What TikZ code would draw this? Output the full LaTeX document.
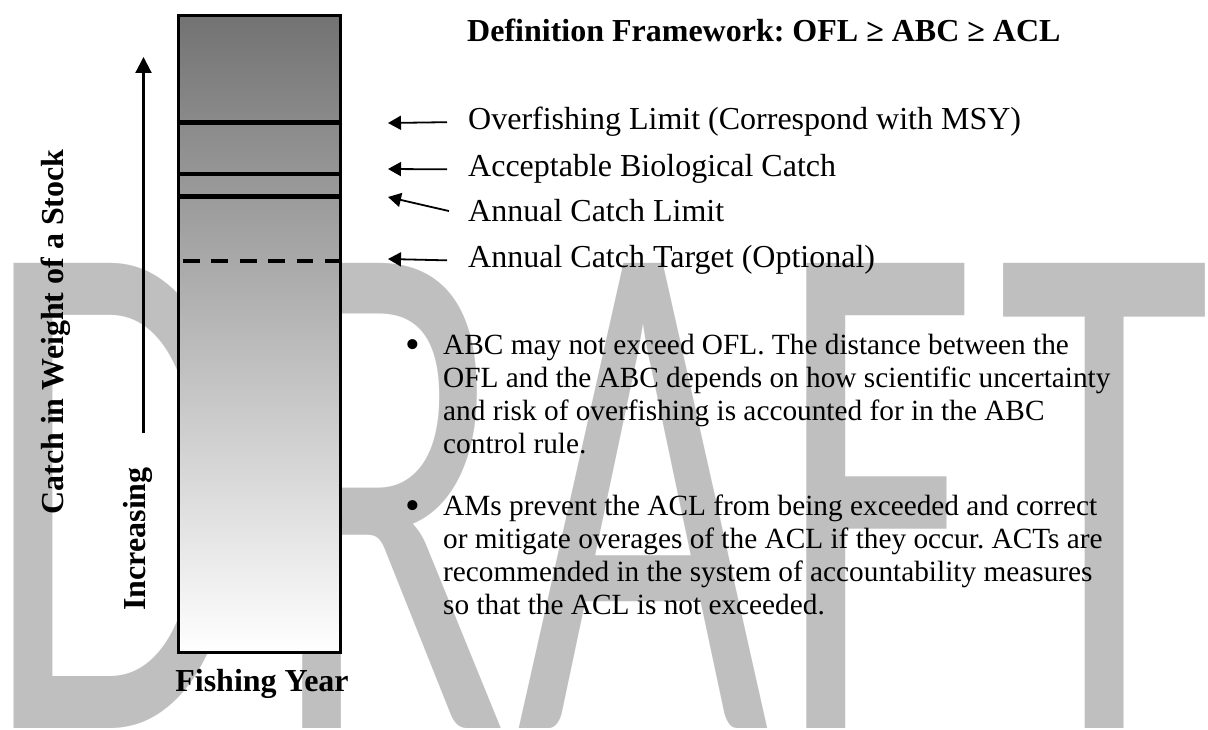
\documentclass[tikz,border=0pt]{standalone}
\usepackage{fontspec}
\setmainfont{Liberation Serif}
\newfontfamily\wmfont{Carlito}
\usepackage{tikz}
\usetikzlibrary{positioning}
\usetikzlibrary{arrows.meta}
\usetikzlibrary{calc}
\frenchspacing

\begin{document}
\begin{tikzpicture}[x=1pt,y=-1pt,
  wm/.style={anchor=base west, inner sep=0pt, text=black!25, xscale=0.6,
    font=\wmfont\fontsize{725}{725}\selectfont},
  lab/.style={anchor=base west, inner sep=0pt, font=\fontsize{32}{36}\selectfont},
  head/.style={inner sep=0pt, font=\fontsize{32}{36}\selectfont\bfseries},
  para/.style={anchor=base west, inner sep=0pt, align=left, font=\fontsize{29.3}{33.3}\selectfont},
  dot/.style={anchor=base, inner sep=0pt, font=\fontsize{42}{42}\selectfont},
  ptr/.style={-{Triangle[length=13pt,width=14pt]}, line width=1.8pt},
  lim/.style={line width=4.5pt}]

\useasboundingbox (0,0) rectangle (1208,730);

% watermark
\node[wm] (wmD) at (-16,728) {D};
\node[wm] (wmR) at (271,728) {R};
\node[wm, anchor=base] (wmA) at (643,728) {A};
\node[wm] (wmF) at (777,728) {F};
\node[wm, anchor=base] (wmT) at (1104,728) {T};

% the catch bar
\node[draw, line width=3.5pt, inner sep=0pt, minimum width=162pt, minimum height=637pt,
  top color=black!55, middle color=black!25, bottom color=white] (bar) at (259.5,334) {};

\draw[lim] (bar.west |- 0,122.5) -- (bar.east |- 0,122.5);
\draw[lim] (bar.west |- 0,174) -- (bar.east |- 0,174);
\draw[lim] (bar.west |- 0,196.5) -- (bar.east |- 0,196.5);
\draw[line width=4pt, dash pattern=on 16.7pt off 11.7pt] (183,261) -- (bar.east |- 0,261);

% axis
\node[head, rotate=90] (ylab) at (56,332) {Catch in Weight of a Stock};
\node[head, rotate=90] (inc) at (138,539) {Increasing};
\coordinate (incbot) at (143.5,433);
\coordinate (inctop) at (143.5,57);
\draw[-{Triangle[length=16pt,width=16pt]}, line width=2.2pt] (incbot) -- (inctop);
\node[head, anchor=base] (year) at (262,691) {Fishing Year};

% definitions
\node[head, anchor=base west] (title) at (467,42) {Definition Framework: OFL ≥ ABC ≥ ACL};

\node[lab] (ofl) at (468,130) {Overfishing Limit (Correspond with MSY)};
\node[lab] (abc) at (468,177) {Acceptable Biological Catch};
\node[lab] (acl) at (468,222) {Annual Catch Limit};
\node[lab] (act) at (468,268) {Annual Catch Target (Optional)};

\coordinate (ofltip) at (388,123);
\coordinate (abctip) at (388,169);
\coordinate (acltip) at (388,197);
\coordinate (acttip) at (388,259);

\draw[ptr] ([xshift=-21pt]ofl.west) -- (ofltip);
\draw[ptr] ([xshift=-21pt]abc.west) -- (abctip);
\draw[ptr] ([xshift=-19pt]acl.west) -- (acltip);
\draw[ptr] ([xshift=-21pt]act.west) -- (acttip);

% notes (base = last line)
\node[dot] (dot1) at (413,358) {\textbullet};
\node[para] (note1) at (443,453.9) {ABC may not exceed OFL. The distance between the\\
OFL and the ABC depends on how scientific uncertainty\\
and risk of overfishing is accounted for in the ABC\\
control rule.};
\node[dot] (dot2) at (413,519) {\textbullet};
\node[para] (note2) at (443,614.9) {AMs prevent the ACL from being exceeded and correct\\
or mitigate overages of the ACL if they occur. ACTs are\\
recommended in the system of accountability measures\\
so that the ACL is not exceeded.};
\end{tikzpicture}
\end{document}
